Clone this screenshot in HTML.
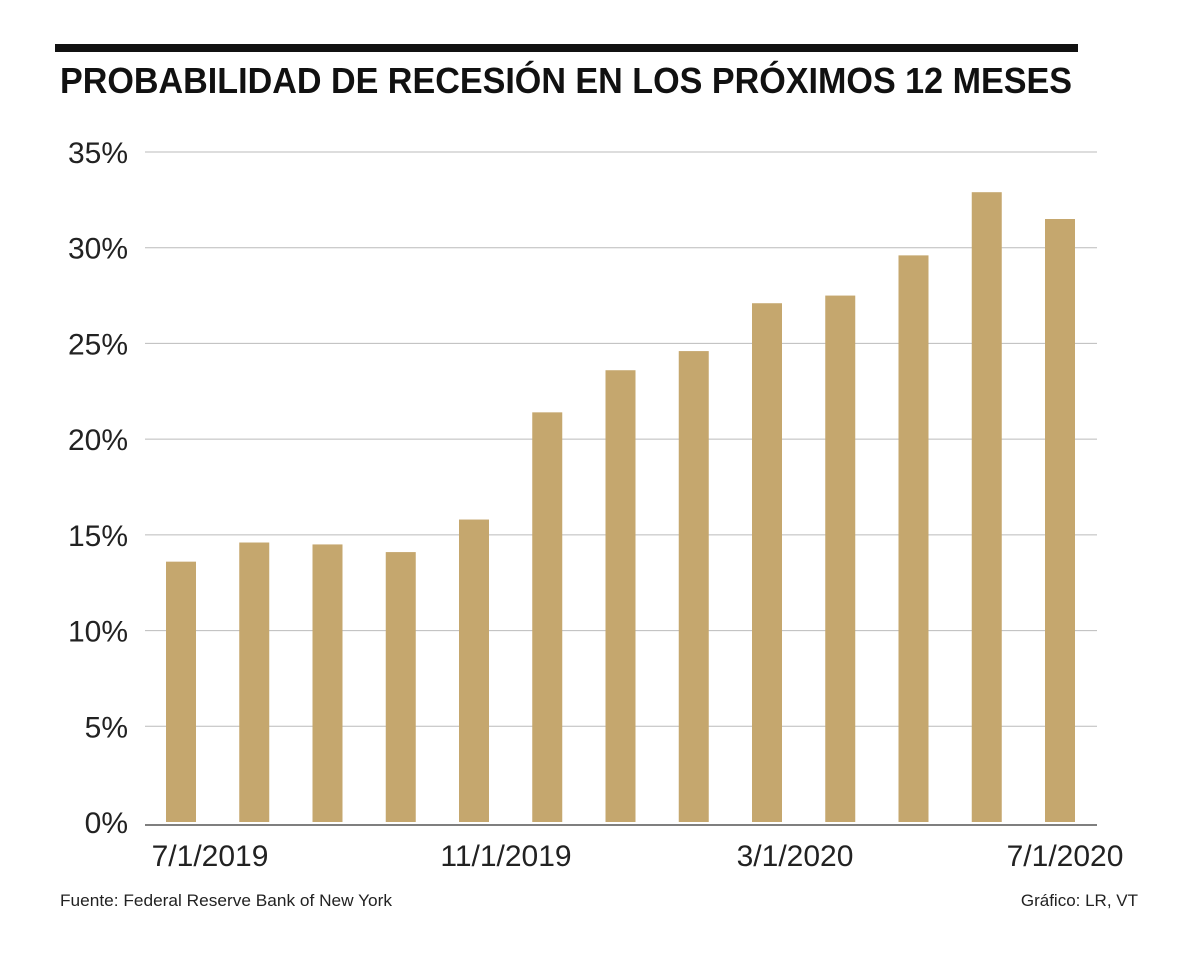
<!DOCTYPE html>
<html><head><meta charset="utf-8"><style>
body{margin:0;background:#fff;}
svg{display:block;font-family:"Liberation Sans",sans-serif;}
</style></head><body>
<svg id="chart" width="1200" height="954" viewBox="0 0 1200 954">
<rect x="55" y="44" width="1023" height="8" fill="#111"/>
<text x="60" y="93" font-size="36" font-weight="bold" fill="#111" textLength="1012" lengthAdjust="spacingAndGlyphs">PROBABILIDAD DE RECESIÓN EN LOS PRÓXIMOS 12 MESES</text>
<g id="grid"></g><g id="bars"></g><g id="xlabels"></g>
<line x1="145" y1="825" x2="1097" y2="825" stroke="#555" stroke-width="1.5"/>
<text x="60" y="906" font-size="17" fill="#222" textLength="332" lengthAdjust="spacingAndGlyphs">Fuente: Federal Reserve Bank of New York</text>
<text x="1138" y="906" font-size="17" fill="#222" text-anchor="end">Gráfico: LR, VT</text>
</svg>
<script>
const categories=["7/1/2019","8/1/2019","9/1/2019","10/1/2019","11/1/2019","12/1/2019","1/1/2020","2/1/2020","3/1/2020","4/1/2020","5/1/2020","6/1/2020","7/1/2020"];
const values=[13.6,14.6,14.5,14.1,15.8,21.4,23.6,24.6,27.1,27.5,29.6,32.9,31.5];
const yTicks=[0,5,10,15,20,25,30,35];
const xLabelIdx=[0,4,8,12];
const NS="http://www.w3.org/2000/svg";
const y=v=>822-v*(670/35);
const x=i=>181+i*73.25;
const labelShift=[29,32,28,5];
function mk(t,a,p){const e=document.createElementNS(NS,t);for(const k in a)e.setAttribute(k,a[k]);p.appendChild(e);return e;}
const g=document.getElementById('grid');
yTicks.forEach(t=>{
 if(t>0){const l=mk('line',{x1:145,x2:1097,y1:y(t),y2:y(t),stroke:'#bbb','stroke-width':1},g);
 
 }
 const tx=mk('text',{x:128,y:y(t)+11,'font-size':30,fill:'#222','text-anchor':'end'},g);
 tx.textContent=t+'%';
 
 
});
const b=document.getElementById('bars');
values.forEach((v,i)=>{
 const r=mk('rect',{x:x(i)-15,y:y(v),width:30,height:822-y(v),fill:'#c5a76e'},b);
 
 
});
const xl=document.getElementById('xlabels');
xLabelIdx.forEach((i,k)=>{
 const tx=mk('text',{x:x(i)+labelShift[k],y:866,'font-size':30,fill:'#222','text-anchor':'middle'},xl);
 tx.textContent=categories[i];
 
 
});
</script>
</body></html>
